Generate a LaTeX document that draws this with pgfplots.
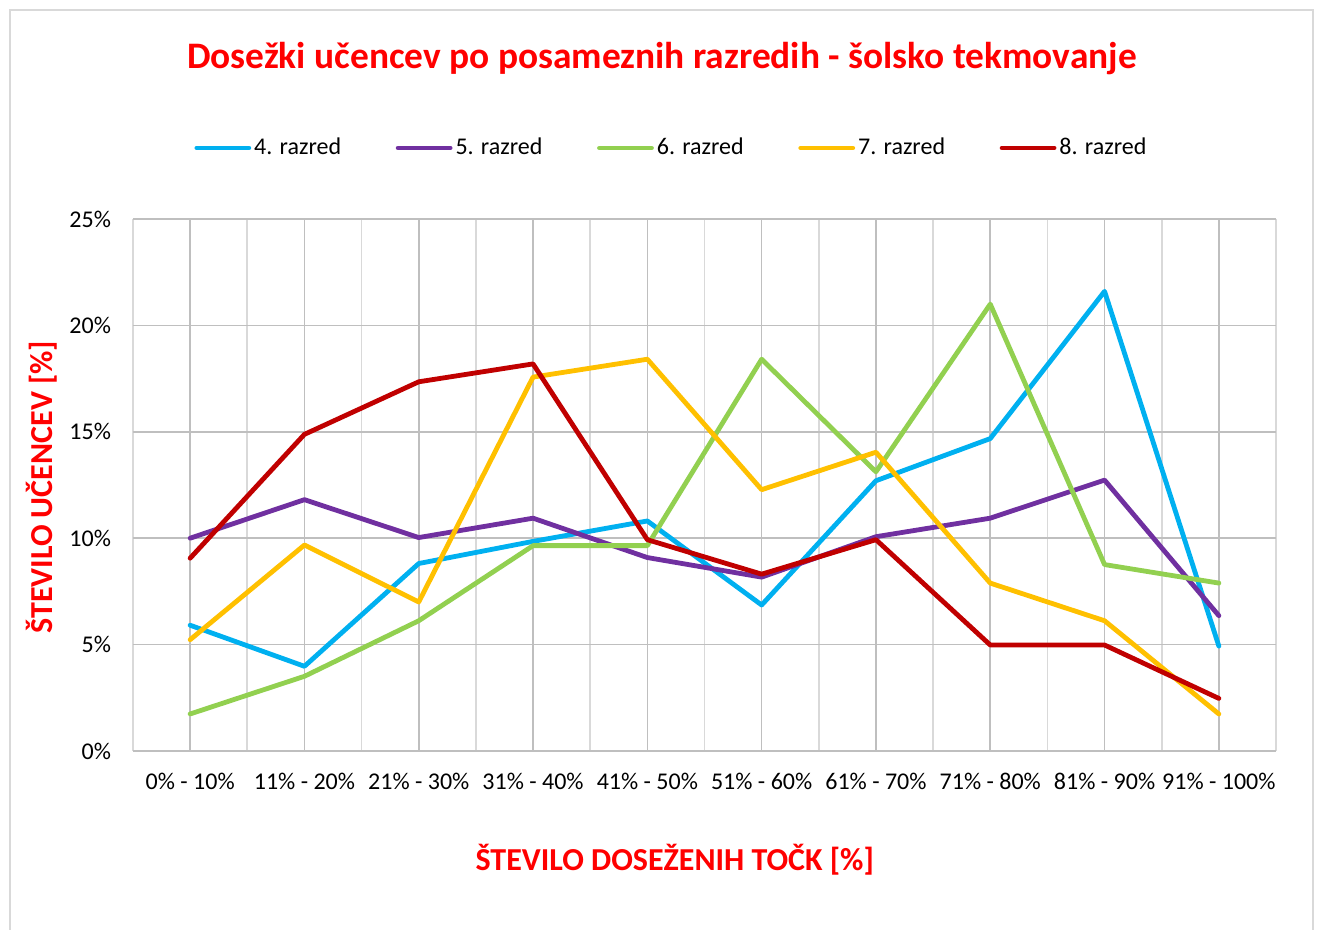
\documentclass[border=0pt]{standalone}
\usepackage{fontspec}
\setmainfont{Carlito}
\usepackage{pgfplots}
\pgfplotsset{compat=1.18}
\definecolor{c4}{HTML}{00B0F0}
\definecolor{c5}{HTML}{7030A0}
\definecolor{c6}{HTML}{92D050}
\definecolor{c7}{HTML}{FFC000}
\definecolor{c8}{HTML}{C00000}
\definecolor{gmaj}{HTML}{BFBFBF}
\definecolor{gmin}{HTML}{D9D9D9}
\definecolor{ttl}{HTML}{FF0000}
\begin{document}
\begin{tikzpicture}
\useasboundingbox (-66.5pt,-89.5pt) rectangle (592pt,375.5pt);
\draw[gmin, line width=0.8pt] (-61.5pt,-95pt) rectangle (590pt,370.5pt);
\begin{axis}[
  at={(0,0)}, anchor=south west,
  scale only axis, width=571.5pt, height=266pt,
  xmin=-0.5, xmax=9.5, ymin=0, ymax=25,
  xtick={0,...,9},
  xticklabels={0\% - 10\%, 11\% - 20\%, 21\% - 30\%, 31\% - 40\%, 41\% - 50\%, 51\% - 60\%, 61\% - 70\%, 71\% - 80\%, 81\% - 90\%, 91\% - 100\%},
  minor xtick={-0.5,0.5,...,9.5},
  ytick={0,5,...,25},
  yticklabel={\pgfmathprintnumber{\tick}\%},
  /pgf/number format/assume math mode=true,
  major tick length=0pt, minor tick length=0pt,
  axis line style={draw=none},
  xmajorgrids, xminorgrids, ymajorgrids,
  major x grid style={gmaj, line width=0.8pt},
  minor x grid style={gmin, line width=0.8pt},
  major y grid style={gmaj, line width=0.8pt},
  ticklabel style={font=\fontsize{12}{14}\selectfont, text=black},
  xticklabel style={yshift=-7.6pt},
  yticklabel style={xshift=-7.5pt},
  title={Dosežki učencev po posameznih razredih - šolsko tekmovanje},
  title style={at={(axis description cs:0.4628,1.2798)}, anchor=center, font=\fontsize{18.7}{22}\selectfont\bfseries, text=ttl},
  xlabel={ŠTEVILO DOSEŽENIH TOČK [\%]},
  xlabel style={at={(axis description cs:0.474,-0.205)}, anchor=center, font=\fontsize{16}{19}\selectfont\bfseries, text=ttl},
  ylabel={ŠTEVILO UČENCEV [\%]},
  ylabel style={at={(axis description cs:-0.0796,0.496)}, anchor=center, rotate=0, font=\fontsize{16}{19}\selectfont\bfseries, text=ttl},
  legend columns=5,
  legend cell align=left,
  legend style={at={(axis description cs:0.4715,1.1335)}, anchor=center, draw=none, fill=none,
    font=\fontsize{12}{14}\selectfont,
    nodes={inner sep=1.5pt},
    /tikz/every even column/.append style={column sep=25.8pt}},
  legend image code/.code={\draw[#1, line width=2.4pt, line cap=round] (0pt,0pt) -- (26pt,0pt);},
  every axis plot/.append style={line width=2.4pt, line join=round, line cap=round},
]
\addplot[c4] coordinates {(0,5.91) (1,3.98) (2,8.81) (3,9.85) (4,10.81) (5,6.86) (6,12.70) (7,14.68) (8,21.60) (9,4.93)};
\addlegendentry{4. razred}
\addplot[c5] coordinates {(0,10.00) (1,11.81) (2,10.03) (3,10.94) (4,9.09) (5,8.17) (6,10.07) (7,10.94) (8,12.73) (9,6.36)};
\addlegendentry{5. razred}
\addplot[c6] coordinates {(0,1.74) (1,3.51) (2,6.12) (3,9.65) (4,9.65) (5,18.41) (6,13.12) (7,21.00) (8,8.76) (9,7.89)};
\addlegendentry{6. razred}
\addplot[c7] coordinates {(0,5.23) (1,9.68) (2,7.00) (3,17.57) (4,18.41) (5,12.28) (6,14.04) (7,7.89) (8,6.12) (9,1.74)};
\addlegendentry{7. razred}
\addplot[c8] coordinates {(0,9.06) (1,14.88) (2,17.35) (3,18.19) (4,9.93) (5,8.31) (6,9.93) (7,4.98) (8,4.98) (9,2.47)};
\addlegendentry{8. razred}
\end{axis}
\end{tikzpicture}
\end{document}
